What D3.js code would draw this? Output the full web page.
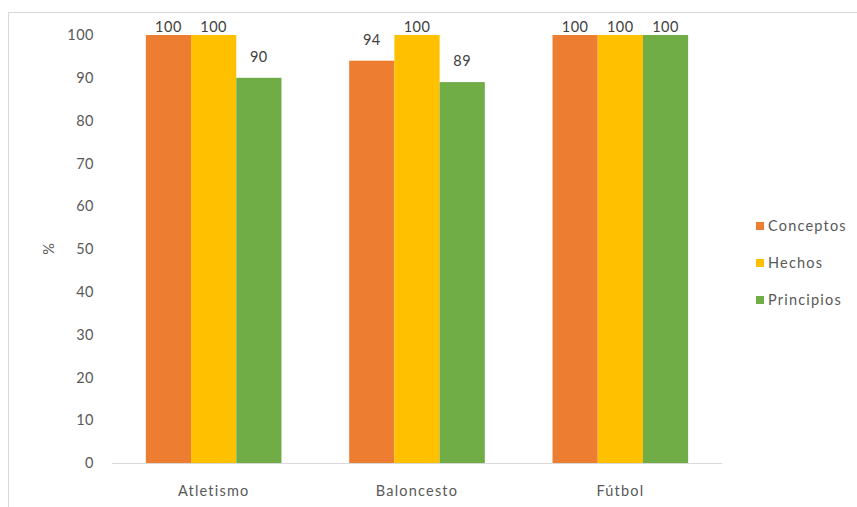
<!DOCTYPE html>
<html><head><meta charset="utf-8">
<script src="https://cdn.jsdelivr.net/npm/d3@7"></script>
<style>body{margin:0;background:#fff;} svg{display:block;}</style>
</head><body>
<svg id="chart" width="857" height="507"></svg>
<script>
const categories = ["Atletismo", "Baloncesto", "Fútbol"];
const seriesNames = ["Conceptos", "Hechos", "Principios"];
const conceptos = [100, 94, 100];
const hechos = [100, 100, 100];
const principios = [90, 89, 100];
const yTicks = [0,10,20,30,40,50,60,70,80,90,100];
const colors = ["#ED7D31", "#FFC000", "#70AD47"];

const seriesValues = [conceptos, hechos, principios];
const FONT = "Lato, 'Open Sans', sans-serif";
const svg = d3.select("#chart");

// chart border
svg.append("rect").attr("x", 8.5).attr("y", 12.5).attr("width", 900).attr("height", 600)
  .attr("fill", "#fff").attr("stroke", "#D9D9D9").attr("stroke-width", 1);

const x0 = d3.scaleBand().domain(categories).range([112, 722]).paddingInner(0.333).paddingOuter(0.1665);
const x1 = d3.scaleBand().domain(seriesNames).range([0, x0.bandwidth()]);
const y = d3.scaleLinear().domain([0, 100]).range([463, 35]);

// y tick labels
const yAxis = d3.axisLeft(y).tickValues(yTicks).tickSize(0).tickPadding(0);
const gy = svg.append("g").attr("transform", "translate(94,0)").call(yAxis);
gy.select(".domain").remove();
gy.selectAll("text").attr("font-family", FONT).attr("font-size", 14.5)
  .attr("letter-spacing", 0.5).attr("fill", "#595959");

// bars
const groups = svg.append("g").selectAll("g").data(categories).join("g")
  .attr("transform", d => `translate(${x0(d)},0)`);
groups.selectAll("rect")
  .data((c, i) => seriesNames.map((s, j) => ({s, v: seriesValues[j][i], j})))
  .join("rect")
  .attr("x", d => x1(d.s)).attr("width", x1.bandwidth())
  .attr("y", d => y(d.v)).attr("height", d => y(0) - y(d.v))
  .attr("fill", d => colors[d.j]);

// data labels
groups.selectAll("text.lbl")
  .data((c, i) => seriesNames.map((s, j) => ({s, v: seriesValues[j][i], j})))
  .join("text").attr("class", "lbl")
  .attr("x", d => x1(d.s) + x1.bandwidth() / 2)
  .attr("y", d => Math.max(y(d.v) - 16, 32))
  .attr("text-anchor", "middle")
  .attr("font-family", FONT).attr("font-size", 14.5).attr("letter-spacing", 0.5)
  .attr("fill", "#404040")
  .text(d => d.v);

// x axis
const xAxis = d3.axisBottom(x0).tickSize(0).tickPadding(22);
const gx = svg.append("g").attr("transform", "translate(0,463.5)").call(xAxis);
gx.select(".domain").attr("stroke", "#D9D9D9").attr("d", "M112,0H722");
gx.selectAll("text").attr("font-family", FONT).attr("font-size", 14.5)
  .attr("letter-spacing", 1.2).attr("fill", "#595959");

// y axis title
svg.append("text").attr("transform", "translate(54,249) rotate(-90)")
  .attr("text-anchor", "middle").attr("font-family", FONT).attr("font-size", 14.5)
  .attr("fill", "#595959").text("%");

// legend
const lg = svg.append("g").selectAll("g").data(seriesNames).join("g")
  .attr("transform", (d, i) => `translate(756,${226 + i * 37})`);
lg.append("rect").attr("x", 0).attr("y", -4).attr("width", 8).attr("height", 8)
  .attr("fill", (d, i) => colors[i]);
lg.append("text").attr("x", 12).attr("y", 5).attr("font-family", FONT).attr("font-size", 14.5)
  .attr("letter-spacing", 1.2).attr("fill", "#595959").text(d => d);
</script>
</body></html>
